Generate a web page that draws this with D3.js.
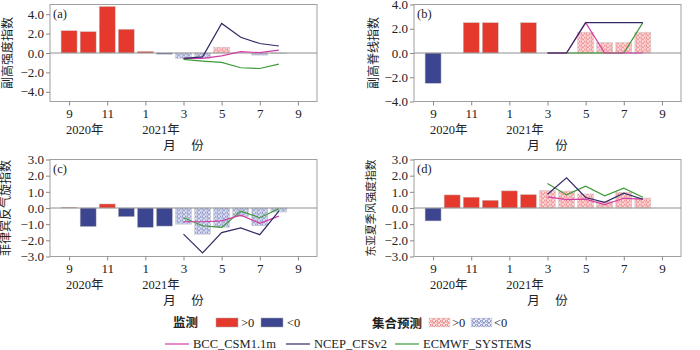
<!DOCTYPE html>
<html>
<head>
<meta charset="utf-8">
<script src="https://cdn.jsdelivr.net/npm/d3@7"></script>
<style>
  body { margin: 0; background: #fff; }
  svg { display: block; }
</style>
</head>
<body>
<div id="chart"></div>
<script>
// months Sep 2020 .. Aug 2021 (index 0..11)
var months = ["2020-09","2020-10","2020-11","2020-12","2021-01","2021-02",
              "2021-03","2021-04","2021-05","2021-06","2021-07","2021-08"];
var tickMonths = [0, 2, 4, 6, 8, 10, 12];
var tickLabels = ["9", "11", "1", "3", "5", "7", "9"];
var yearLabels = [{i: 0, t: "2020年"}, {i: 4, t: "2021年"}];

var yTicksA = [-4, -2, 0, 2, 4];
var yTicksB = [-4, -2, 0, 2, 4];
var yTicksCD = [-3, -2, -1, 0, 1, 2, 3];

// monitoring (Sep 2020 - Feb 2021)
var obsA = [2.3, 2.2, 4.8, 2.45, 0.17, -0.12];
var obsB = [-2.5, 0, 2.5, 2.5, 0, 2.5];
var obsC = [0.05, -1.15, 0.25, -0.54, -1.2, -1.12];
var obsD = [-0.8, 0.81, 0.67, 0.48, 1.06, 0.83];

// ensemble forecast (Mar - Aug 2021)
var ensA = [-0.55, -0.55, 0.6, 0, -0.22, -0.05];
var ensB = [0, 0, 1.72, 0.86, 0.86, 1.72];
var ensC = [-1.0, -1.62, -1.2, -0.54, -1.1, -0.25];
var ensD = [1.08, 1.05, 0.87, 0.4, 0.97, 0.62];

// model forecasts (Mar - Aug 2021)
var bccA = [-0.55, -0.55, -0.3, 0.14, 0.03, 0.3];
var ncepA = [-0.55, -0.4, 3.05, 1.62, 0.98, 0.72];
var ecA = [-0.65, -0.83, -0.97, -1.52, -1.6, -1.14];

var bccB = [0, 0, 2.5, 0, 0, 0];
var ncepB = [0, 0, 2.5, 2.5, 2.5, 2.5];
var ecB = [0, 0, 0, 0, 0, 2.5];

var bccC = [-0.85, -0.85, -0.8, -0.44, -0.95, -0.5];
var ncepC = [-1.62, -2.78, -1.52, -1.23, -1.65, -0.19];
var ecC = [-0.6, -1.1, -1.2, -0.2, -0.6, -0.05];

var bccD = [0.69, 0.52, 0.55, 0.21, 0.6, 0.55];
var ncepD = [0.85, 1.87, 0.65, 0.35, 0.92, 0.54];
var ecD = [1.52, 0.81, 1.35, 0.75, 1.23, 0.67];

var red = "#e6392e", blue = "#3b4590";
var colBCC = "#d23ea6", colNCEP = "#352a66", colEC = "#3c9a38";
var FONT = "'Liberation Serif', 'Times New Roman', 'DejaVu Serif', 'Noto Sans CJK SC', serif";

var svg = d3.select("#chart").append("svg")
    .attr("width", 700).attr("height", 350)
    .attr("font-family", FONT);

// hatch patterns for ensemble bars
var defs = svg.append("defs");
function hatch(id, bg, fg) {
  var p = defs.append("pattern").attr("id", id)
    .attr("patternUnits", "userSpaceOnUse").attr("width", 5).attr("height", 4);
  p.append("rect").attr("width", 5).attr("height", 4).attr("fill", bg);
  p.append("circle").attr("cx", 1.5).attr("cy", 1.2).attr("r", 1.1)
    .attr("fill", "none").attr("stroke", fg).attr("stroke-width", 0.6);
  p.append("circle").attr("cx", 4).attr("cy", 3.2).attr("r", 1.1)
    .attr("fill", "none").attr("stroke", fg).attr("stroke-width", 0.6);
}
hatch("hatchRed", "#fde6e6", "#e8474a");
hatch("hatchBlue", "#eceefa", "#4050a0");

var panels = [
  {tag: "(a)", left: 50, top: 4.5, dom: [-5, 5], ticks: yTicksA, label: "副高强度指数", fs: 12, lx: -41,
   obs: obsA, ens: ensA, bcc: bccA, ncep: ncepA, ec: ecA},
  {tag: "(b)", left: 414, top: 4.5, dom: [-4, 4], ticks: yTicksB, label: "副高脊线指数", fs: 12, lx: -39,
   obs: obsB, ens: ensB, bcc: bccB, ncep: ncepB, ec: ecB},
  {tag: "(c)", left: 50, top: 159.5, dom: [-3, 3], ticks: yTicksCD, label: "菲律宾反气旋指数", fs: 12, lx: -43,
   obs: obsC, ens: ensC, bcc: bccC, ncep: ncepC, ec: ecC},
  {tag: "(d)", left: 414, top: 159.5, dom: [-3, 3], ticks: yTicksCD, label: "东亚夏季风强度指数", fs: 10.8, lx: -41,
   obs: obsD, ens: ensD, bcc: bccD, ncep: ncepD, ec: ecD}
];

var width = 267, height = 97, barW = 16;
var fmt = d3.format(".1f");

panels.forEach(function(p) {
  var g = svg.append("g").attr("transform", "translate(" + p.left + "," + p.top + ")");

  var x = d3.scaleLinear().domain([-1, 13]).range([0, width]);
  var y = d3.scaleLinear().domain(p.dom).range([height, 0]);

  // frame
  g.append("rect").attr("width", width).attr("height", height)
    .attr("fill", "none").attr("stroke", "#a0a0a0").attr("stroke-width", 1);

  // axes
  var ya = g.append("g").call(d3.axisLeft(y).tickValues(p.ticks).tickFormat(fmt).tickSize(4).tickPadding(2));
  var xa = g.append("g").attr("transform", "translate(0," + height + ")")
    .call(d3.axisBottom(x).tickValues(tickMonths)
      .tickFormat(function(d, i) { return tickLabels[i]; }).tickSize(4).tickPadding(3));
  [ya, xa].forEach(function(a) {
    a.attr("font-family", FONT).attr("font-size", 13);
    a.select(".domain").remove();
    a.selectAll("line").attr("stroke", "#888");
    a.selectAll("text").attr("fill", "#222");
  });

  // year labels
  g.selectAll(".yr").data(yearLabels).enter().append("text")
    .attr("x", function(d) { return x(d.i) - 3; })
    .attr("y", height + 32)
    .attr("font-size", 12.5).attr("fill", "#222")
    .text(function(d) { return d.t; });

  // x title
  g.append("text").attr("x", width / 2).attr("y", height + 48)
    .attr("text-anchor", "middle").attr("font-size", 12.5).attr("fill", "#222")
    .attr("xml:space", "preserve").text("月　 份");

  // y title
  g.append("text").attr("transform", "translate(" + p.lx + "," + (height / 2) + ") rotate(-90)")
    .attr("text-anchor", "middle").attr("dominant-baseline", "middle")
    .attr("font-size", p.fs).attr("fill", "#222")
    .text(p.label);

  // panel tag
  g.append("text").attr("x", 3).attr("y", 13).attr("font-size", 12.5).attr("fill", "#222").text(p.tag);

  // monitoring bars
  g.selectAll(".obs").data(p.obs).enter().append("rect")
    .attr("x", function(d, i) { return x(i) - barW / 2; })
    .attr("y", function(d) { return y(Math.max(0, d)); })
    .attr("width", barW)
    .attr("height", function(d) { return Math.abs(y(d) - y(0)); })
    .attr("fill", function(d) { return d >= 0 ? red : blue; })
    .attr("stroke", "#c8c8c8").attr("stroke-width", 0.5);

  // ensemble bars
  g.selectAll(".ens").data(p.ens).enter().append("rect")
    .attr("x", function(d, i) { return x(i + 6) - barW / 2; })
    .attr("y", function(d) { return y(Math.max(0, d)); })
    .attr("width", barW)
    .attr("height", function(d) { return Math.abs(y(d) - y(0)); })
    .attr("fill", function(d) { return d >= 0 ? "url(#hatchRed)" : "url(#hatchBlue)"; })
    .attr("stroke", "#c8c8c8").attr("stroke-width", 0.5);

  // zero line
  g.append("line").attr("x1", 0).attr("x2", width).attr("y1", y(0)).attr("y2", y(0))
    .attr("stroke", "#909090").attr("stroke-width", 1);

  // model lines
  var line = d3.line().x(function(d, i) { return x(i + 6); }).y(function(d) { return y(d); });
  [[p.ec, colEC], [p.bcc, colBCC], [p.ncep, colNCEP]].forEach(function(s) {
    g.append("path").datum(s[0]).attr("fill", "none")
      .attr("stroke", s[1]).attr("stroke-width", 1.2).attr("d", line);
  });
});

// legend
var lg = svg.append("g").attr("font-size", 12.5).attr("fill", "#222");
lg.append("text").attr("x", 173).attr("y", 327).attr("font-weight", "bold").text("监测");
lg.append("rect").attr("x", 216).attr("y", 318).attr("width", 22).attr("height", 9).attr("fill", red).attr("stroke", "#aaa").attr("stroke-width", 0.5);
lg.append("text").attr("x", 241).attr("y", 327).text(">0");
lg.append("rect").attr("x", 261).attr("y", 318).attr("width", 22).attr("height", 9).attr("fill", blue).attr("stroke", "#aaa").attr("stroke-width", 0.5);
lg.append("text").attr("x", 287).attr("y", 327).text("<0");

lg.append("text").attr("x", 372).attr("y", 328).attr("font-weight", "bold").text("集合预测");
lg.append("rect").attr("x", 429).attr("y", 318).attr("width", 21).attr("height", 9).attr("fill", "url(#hatchRed)").attr("stroke", "#ddd").attr("stroke-width", 0.5);
lg.append("text").attr("x", 452).attr("y", 327).text(">0");
lg.append("rect").attr("x", 471).attr("y", 318).attr("width", 21).attr("height", 9).attr("fill", "url(#hatchBlue)").attr("stroke", "#ddd").attr("stroke-width", 0.5);
lg.append("text").attr("x", 494).attr("y", 327).text("<0");

var models = [["BCC_CSM1.1m", colBCC, 165], ["NCEP_CFSv2", colNCEP, 286], ["ECMWF_SYSTEMS", colEC, 395]];
models.forEach(function(m) {
  lg.append("line").attr("x1", m[2]).attr("x2", m[2] + 24).attr("y1", 344).attr("y2", 344)
    .attr("stroke", m[1]).attr("stroke-width", 1.2);
  lg.append("text").attr("x", m[2] + 28).attr("y", 347.5).text(m[0]);
});
</script>
</body>
</html>
